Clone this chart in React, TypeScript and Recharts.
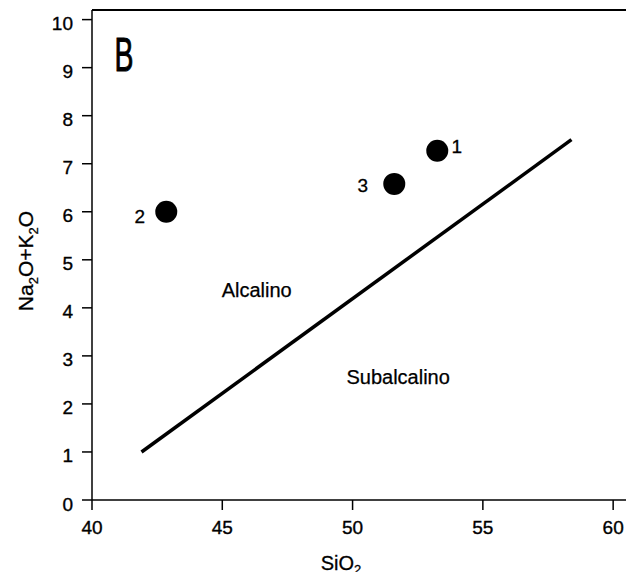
import {
  ComposedChart,
  Scatter,
  XAxis,
  YAxis,
  ReferenceLine,
  ReferenceDot,
  LabelList,
} from "recharts";

const samples = [
  { id: "1", x: 53.25, y: 7.27 },
  { id: "2", x: 42.85, y: 6.0 },
  { id: "3", x: 51.6, y: 6.58 },
];

// alkaline / subalkaline divide
const divideLine = [
  { x: 41.9, y: 1.0 },
  { x: 58.4, y: 7.5 },
];

const xTicks = [40, 45, 50, 55, 60];
const yTicks = [0, 1, 2, 3, 4, 5, 6, 7, 8, 9, 10];

const fieldLabels = [
  { text: "Alcalino", x: 46.32, y: 4.38 },
  { text: "Subalcalino", x: 51.75, y: 2.56 },
];

const panelLetter = { text: "B", x: 41.23, y: 9.29 };

const FONT = "'Liberation Sans', Arial, sans-serif";
const INK = "#000";

const labelOffsets: Record<string, [number, number]> = {
  "1": [24, 0],
  "2": [-22, 9],
  "3": [-27, 6],
};

function PointLabel(props: any) {
  const { x, y, value } = props;
  const [dx, dy] = labelOffsets[value] || [0, 0];
  return (
    <text
      x={x + dx}
      y={y + dy + 7}
      textAnchor="middle"
      fontSize={19}
      fontFamily={FONT}
      fill={INK}
      stroke={INK}
      strokeWidth={0.3}
    >
      {value}
    </text>
  );
}

function Dot(props: any) {
  return <circle cx={props.cx} cy={props.cy} r={11} fill={INK} />;
}

function XTick(props: any) {
  const { x, y, payload } = props;
  return (
    <text x={x} y={y + 19} textAnchor="middle" fontSize={19} fontFamily={FONT} fill={INK} stroke={INK} strokeWidth={0.35}>
      {payload.value}
    </text>
  );
}

function YTick(props: any) {
  const { x, y, payload } = props;
  return (
    <text x={x} y={y + 10.5} textAnchor="end" fontSize={19} fontFamily={FONT} fill={INK} stroke={INK} strokeWidth={0.35}>
      {payload.value}
    </text>
  );
}

function YLabel(props: any) {
  const { viewBox } = props;
  const cy = viewBox.y + viewBox.height / 2 + 6;
  const x = 33;
  return (
    <text
      x={x}
      y={cy}
      transform={`rotate(-90, ${x}, ${cy})`}
      textAnchor="middle"
      fontSize={21}
      fontFamily={FONT}
      fill={INK}
      stroke={INK}
      strokeWidth={0.3}
    >
      Na<tspan fontSize={13} dy={5}>2</tspan>
      <tspan dy={-5}>O+K</tspan>
      <tspan fontSize={13} dy={5}>2</tspan>
      <tspan dy={-5}>O</tspan>
    </text>
  );
}

function XLabel() {
  return (
    <text x={341} y={570} textAnchor="middle" fontSize={20} fontFamily={FONT} fill={INK} stroke={INK} strokeWidth={0.3}>
      SiO<tspan fontSize={13} dy={4}>2</tspan>
    </text>
  );
}

function FieldLabel(props: any) {
  const { viewBox, value } = props;
  return (
    <text x={viewBox.x} y={viewBox.y + 7} textAnchor="middle" fontSize={20} fontFamily={FONT} fill={INK} stroke={INK} strokeWidth={0.25}>
      {value}
    </text>
  );
}

function Letter(props: any) {
  const { viewBox, value } = props;
  const cx = viewBox.x;
  const cy = viewBox.y;
  return (
    <text
      transform={`translate(${cx}, ${cy + 17.5}) scale(0.58, 1)`}
      textAnchor="middle"
      fontSize={49}
      fontFamily={FONT}
      fill={INK}
      stroke={INK}
      strokeWidth={1}
    >
      {value}
    </text>
  );
}

export default function App() {
  return (
    <div style={{ margin: -8, width: 634, height: 580, background: "#fff" }}>
      <ComposedChart width={634} height={580} margin={{ top: 10, right: 0, bottom: 0, left: 0 }}>
        <XAxis
          type="number"
          dataKey="x"
          domain={[40, 60.8]}
          ticks={xTicks}
          allowDataOverflow
          height={80}
          tickSize={10}
          tickMargin={5}
          tick={<XTick />}
          stroke={INK}
          strokeWidth={1.5}
          label={<XLabel />}
        />
        <YAxis
          type="number"
          dataKey="y"
          domain={[0, 10.2]}
          ticks={yTicks}
          allowDataOverflow
          width={92}
          tickSize={10}
          tickMargin={9}
          tick={<YTick />}
          stroke={INK}
          strokeWidth={1.5}
          label={<YLabel />}
        />
        <ReferenceLine y={10.2} stroke={INK} strokeWidth={2} />
        <ReferenceLine segment={divideLine} stroke={INK} strokeWidth={3.5} />
        {fieldLabels.map((f) => (
          <ReferenceDot
            key={f.text}
            x={f.x}
            y={f.y}
            r={0}
            fill="none"
            stroke="none"
            label={<FieldLabel value={f.text} />}
          />
        ))}
        <ReferenceDot
          x={panelLetter.x}
          y={panelLetter.y}
          r={0}
          fill="none"
          stroke="none"
          label={<Letter value={panelLetter.text} />}
        />
        <Scatter data={samples} dataKey="y" shape={<Dot />} isAnimationActive={false}>
          <LabelList dataKey="id" content={<PointLabel />} />
        </Scatter>
      </ComposedChart>
    </div>
  );
}
